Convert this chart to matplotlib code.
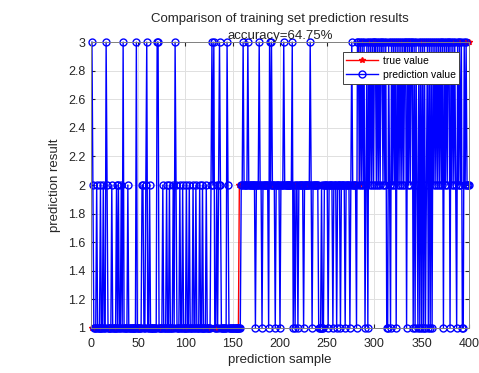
import matplotlib.pyplot as plt
import numpy as np
from matplotlib.ticker import MultipleLocator, FuncFormatter

plt.rcParams['font.family'] = ['Liberation Sans', 'DejaVu Sans']

# true class of each sample given as (class, first sample, last sample)
true_runs = [(1, 1, 156), (2, 157, 284), (3, 285, 400)]

# samples that were misclassified, grouped by (true class -> predicted class)
c1_as2 = [2, 6, 10, 13, 17, 22, 27, 29, 32, 39, 54, 55, 58, 62, 76, 80, 83, 87,
          90, 94, 97, 101, 104, 108, 111, 115, 118, 122, 127, 129, 133, 135, 137, 145]
c1_as3 = [1, 16, 34, 48, 59, 70, 71, 89, 128, 130, 136, 144]
c2_as1 = [157, 158, 174, 181, 188, 195, 200, 214, 216, 219, 225, 234, 241, 242,
          243, 245, 246, 251, 256, 260, 264, 269, 274, 281]
c2_as3 = [161, 166, 178, 189, 191, 204, 213, 232, 276, 282, 283]
c3_as1 = [290, 293, 313, 314, 317, 323, 334, 341, 343, 346, 348, 350, 352, 354,
          357, 359, 361, 373, 380, 387, 393, 394]
c3_as2 = [286, 288, 291, 295, 297, 299, 302, 304, 306, 309, 311, 316, 319, 321,
          325, 327, 329, 331, 336, 338, 345, 355, 363, 365, 367, 369, 371, 375,
          377, 382, 384, 386, 389, 391, 396, 398, 399, 400]

n = true_runs[-1][2]
sample = np.arange(1, n + 1)
true_val = np.zeros(n)
for cls, a, b in true_runs:
    true_val[a - 1:b] = cls

pred_val = true_val.copy()
for idx, cls in [(c1_as2, 2), (c1_as3, 3), (c2_as1, 1), (c2_as3, 3), (c3_as1, 1), (c3_as2, 2)]:
    pred_val[np.array(idx) - 1] = cls

acc = np.mean(pred_val == true_val) * 100

fig = plt.figure(figsize=(4.79, 3.73), dpi=100)
ax = fig.add_axes([0.190, 0.121, 0.789, 0.766])

ax.plot(sample, true_val, 'r-*', lw=1, ms=4, label='true value', clip_on=False)
ax.plot(sample, pred_val, 'b-o', lw=1, ms=5, mfc='none', label='prediction value',
        clip_on=False)

ax.set_xlim(0, 400)
ax.set_ylim(1, 3)
ax.xaxis.set_major_locator(MultipleLocator(50))
ax.yaxis.set_major_locator(MultipleLocator(0.2))
ax.yaxis.set_major_formatter(FuncFormatter(lambda v, p: '%g' % round(v, 1)))
ax.grid(True, color='#e0e0e0', lw=0.7)
ax.set_axisbelow(True)
ax.tick_params(direction='in', length=3, labelsize=9, colors='#262626',
               top=True, right=True, pad=4)
ax.tick_params(axis='x', pad=7)
for s in ax.spines.values():
    s.set_color('#808080')
    s.set_linewidth(0.7)

ax.set_xlabel('prediction sample', fontsize=9.5, color='#262626', labelpad=3)
ax.set_ylabel('prediction result', fontsize=9.5, color='#262626', labelpad=5)
ax.set_title('Comparison of training set prediction results\naccuracy=%.2f%%' % acc,
             fontsize=9.5, color='#262626', pad=2, linespacing=1.55)

leg = ax.legend(loc='upper right', fontsize=7.5, fancybox=False, framealpha=1,
                edgecolor='#404040', borderaxespad=0, handlelength=3,
                borderpad=0.35, labelspacing=0.4, handletextpad=0.5,
                bbox_to_anchor=(0.975, 0.965))
leg.get_frame().set_linewidth(0.7)
leg.set_zorder(5)

fig.savefig('out.png', dpi=100)
